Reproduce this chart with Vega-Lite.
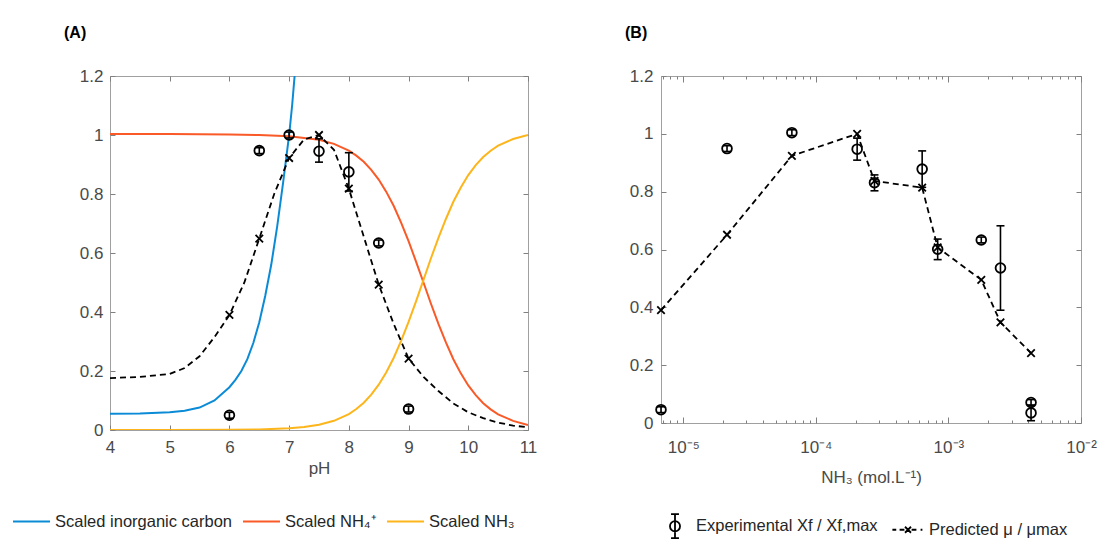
{
  "$schema": "https://vega.github.io/schema/vega-lite/v6.json",
  "padding": {"left": 12, "top": 24, "right": 0, "bottom": 0},
  "background": "white",
  "spacing": 86,
  "config": {
    "font": "Liberation Sans",
    "view": {"stroke": "#a0a0a0", "strokeWidth": 1},
    "axis": {"grid": false, "domain": false, "tickColor": "#808080", "tickSize": -5, "tickWidth": 1,
      "labelFont": "Liberation Sans", "labelFontSize": 17, "labelColor": "#4a4a4a",
      "titleFont": "Liberation Sans", "titleFontSize": 17, "titleFontWeight": "normal", "titleColor": "#4a4a4a",
      "labelFlush": false, "labelOverlap": false, "labelBound": false},
    "legend": {"labelFont": "Liberation Sans", "labelFontSize": 16.5, "labelColor": "#262626", "labelLimit": 0, "padding": 0},
    "title": {"font": "Liberation Sans", "fontSize": 16, "fontWeight": "bold", "color": "#000000", "anchor": "start", "frame": "group"}
  },
  "datasets": {
    "curvesA": [
      {"pH": 4, "value": 0.055, "curve": "Scaled inorganic carbon"},
      {"pH": 4.5, "value": 0.056, "curve": "Scaled inorganic carbon"},
      {"pH": 5, "value": 0.06, "curve": "Scaled inorganic carbon"},
      {"pH": 5.25, "value": 0.065, "curve": "Scaled inorganic carbon"},
      {"pH": 5.5, "value": 0.076, "curve": "Scaled inorganic carbon"},
      {"pH": 5.75, "value": 0.1, "curve": "Scaled inorganic carbon"},
      {"pH": 6, "value": 0.145, "curve": "Scaled inorganic carbon"},
      {"pH": 6.1, "value": 0.17, "curve": "Scaled inorganic carbon"},
      {"pH": 6.2, "value": 0.2, "curve": "Scaled inorganic carbon"},
      {"pH": 6.3, "value": 0.24, "curve": "Scaled inorganic carbon"},
      {"pH": 6.4, "value": 0.295, "curve": "Scaled inorganic carbon"},
      {"pH": 6.5, "value": 0.365, "curve": "Scaled inorganic carbon"},
      {"pH": 6.6, "value": 0.455, "curve": "Scaled inorganic carbon"},
      {"pH": 6.7, "value": 0.56, "curve": "Scaled inorganic carbon"},
      {"pH": 6.8, "value": 0.69, "curve": "Scaled inorganic carbon"},
      {"pH": 6.9, "value": 0.84, "curve": "Scaled inorganic carbon"},
      {"pH": 7, "value": 1.0, "curve": "Scaled inorganic carbon"},
      {"pH": 7.05, "value": 1.1, "curve": "Scaled inorganic carbon"},
      {"pH": 7.1, "value": 1.22, "curve": "Scaled inorganic carbon"},
      {"pH": 4, "value": 1.003, "curve": "Scaled NH₄⁺"},
      {"pH": 5, "value": 1.003, "curve": "Scaled NH₄⁺"},
      {"pH": 6, "value": 1.002, "curve": "Scaled NH₄⁺"},
      {"pH": 6.5, "value": 1.0, "curve": "Scaled NH₄⁺"},
      {"pH": 7, "value": 0.996, "curve": "Scaled NH₄⁺"},
      {"pH": 7.5, "value": 0.984, "curve": "Scaled NH₄⁺"},
      {"pH": 7.75, "value": 0.97, "curve": "Scaled NH₄⁺"},
      {"pH": 8, "value": 0.947, "curve": "Scaled NH₄⁺"},
      {"pH": 8.125, "value": 0.93, "curve": "Scaled NH₄⁺"},
      {"pH": 8.25, "value": 0.909, "curve": "Scaled NH₄⁺"},
      {"pH": 8.375, "value": 0.882, "curve": "Scaled NH₄⁺"},
      {"pH": 8.5, "value": 0.849, "curve": "Scaled NH₄⁺"},
      {"pH": 8.625, "value": 0.808, "curve": "Scaled NH₄⁺"},
      {"pH": 8.75, "value": 0.76, "curve": "Scaled NH₄⁺"},
      {"pH": 8.875, "value": 0.703, "curve": "Scaled NH₄⁺"},
      {"pH": 9, "value": 0.64, "curve": "Scaled NH₄⁺"},
      {"pH": 9.125, "value": 0.571, "curve": "Scaled NH₄⁺"},
      {"pH": 9.25, "value": 0.5, "curve": "Scaled NH₄⁺"},
      {"pH": 9.375, "value": 0.428, "curve": "Scaled NH₄⁺"},
      {"pH": 9.5, "value": 0.36, "curve": "Scaled NH₄⁺"},
      {"pH": 9.625, "value": 0.297, "curve": "Scaled NH₄⁺"},
      {"pH": 9.75, "value": 0.24, "curve": "Scaled NH₄⁺"},
      {"pH": 9.875, "value": 0.192, "curve": "Scaled NH₄⁺"},
      {"pH": 10, "value": 0.151, "curve": "Scaled NH₄⁺"},
      {"pH": 10.125, "value": 0.118, "curve": "Scaled NH₄⁺"},
      {"pH": 10.25, "value": 0.091, "curve": "Scaled NH₄⁺"},
      {"pH": 10.375, "value": 0.07, "curve": "Scaled NH₄⁺"},
      {"pH": 10.5, "value": 0.053, "curve": "Scaled NH₄⁺"},
      {"pH": 10.75, "value": 0.031, "curve": "Scaled NH₄⁺"},
      {"pH": 11, "value": 0.017, "curve": "Scaled NH₄⁺"},
      {"pH": 4, "value": 0.0, "curve": "Scaled NH₃"},
      {"pH": 5, "value": 0.0001, "curve": "Scaled NH₃"},
      {"pH": 6, "value": 0.0006, "curve": "Scaled NH₃"},
      {"pH": 6.5, "value": 0.0018, "curve": "Scaled NH₃"},
      {"pH": 7, "value": 0.0057, "curve": "Scaled NH₃"},
      {"pH": 7.25, "value": 0.0102, "curve": "Scaled NH₃"},
      {"pH": 7.5, "value": 0.0178, "curve": "Scaled NH₃"},
      {"pH": 7.75, "value": 0.0312, "curve": "Scaled NH₃"},
      {"pH": 8, "value": 0.0541, "curve": "Scaled NH₃"},
      {"pH": 8.125, "value": 0.0711, "curve": "Scaled NH₃"},
      {"pH": 8.25, "value": 0.0925, "curve": "Scaled NH₃"},
      {"pH": 8.375, "value": 0.1201, "curve": "Scaled NH₃"},
      {"pH": 8.5, "value": 0.1535, "curve": "Scaled NH₃"},
      {"pH": 8.625, "value": 0.1951, "curve": "Scaled NH₃"},
      {"pH": 8.75, "value": 0.2441, "curve": "Scaled NH₃"},
      {"pH": 8.875, "value": 0.3023, "curve": "Scaled NH₃"},
      {"pH": 9, "value": 0.3664, "curve": "Scaled NH₃"},
      {"pH": 9.125, "value": 0.4363, "curve": "Scaled NH₃"},
      {"pH": 9.25, "value": 0.5089, "curve": "Scaled NH₃"},
      {"pH": 9.375, "value": 0.5822, "curve": "Scaled NH₃"},
      {"pH": 9.5, "value": 0.6514, "curve": "Scaled NH₃"},
      {"pH": 9.625, "value": 0.7153, "curve": "Scaled NH₃"},
      {"pH": 9.75, "value": 0.7737, "curve": "Scaled NH₃"},
      {"pH": 9.875, "value": 0.8223, "curve": "Scaled NH₃"},
      {"pH": 10, "value": 0.8641, "curve": "Scaled NH₃"},
      {"pH": 10.125, "value": 0.8977, "curve": "Scaled NH₃"},
      {"pH": 10.25, "value": 0.9252, "curve": "Scaled NH₃"},
      {"pH": 10.375, "value": 0.9466, "curve": "Scaled NH₃"},
      {"pH": 10.5, "value": 0.9638, "curve": "Scaled NH₃"},
      {"pH": 10.75, "value": 0.9864, "curve": "Scaled NH₃"},
      {"pH": 11, "value": 1.0, "curve": "Scaled NH₃"}
    ],
    "predCurveA": [
      {"pH": 4, "value": 0.176}, {"pH": 4.5, "value": 0.18}, {"pH": 5, "value": 0.19},
      {"pH": 5.25, "value": 0.21}, {"pH": 5.5, "value": 0.25}, {"pH": 5.75, "value": 0.315},
      {"pH": 6, "value": 0.39}, {"pH": 6.25, "value": 0.5}, {"pH": 6.5, "value": 0.649},
      {"pH": 6.75, "value": 0.8}, {"pH": 7, "value": 0.922}, {"pH": 7.25, "value": 0.985},
      {"pH": 7.5, "value": 1.0}, {"pH": 7.75, "value": 0.95}, {"pH": 8, "value": 0.818},
      {"pH": 8.25, "value": 0.655}, {"pH": 8.5, "value": 0.493}, {"pH": 8.75, "value": 0.36},
      {"pH": 9, "value": 0.242}, {"pH": 9.25, "value": 0.18}, {"pH": 9.5, "value": 0.132},
      {"pH": 9.75, "value": 0.09}, {"pH": 10, "value": 0.06}, {"pH": 10.25, "value": 0.04},
      {"pH": 10.5, "value": 0.025}, {"pH": 10.75, "value": 0.015}, {"pH": 11, "value": 0.009}
    ],
    "predPtsA": [
      {"pH": 6, "value": 0.39}, {"pH": 6.5, "value": 0.649}, {"pH": 7, "value": 0.922},
      {"pH": 7.5, "value": 1.0}, {"pH": 8, "value": 0.818}, {"pH": 8.5, "value": 0.493},
      {"pH": 9, "value": 0.242}
    ],
    "expA": [
      {"pH": 6, "value": 0.05, "lo": 0.04, "hi": 0.06},
      {"pH": 6.5, "value": 0.947, "lo": 0.937, "hi": 0.957},
      {"pH": 7, "value": 1.0, "lo": 0.99, "hi": 1.01},
      {"pH": 7.5, "value": 0.945, "lo": 0.908, "hi": 0.987},
      {"pH": 8, "value": 0.875, "lo": 0.81, "hi": 0.94},
      {"pH": 8.5, "value": 0.634, "lo": 0.624, "hi": 0.644},
      {"pH": 9, "value": 0.071, "lo": 0.061, "hi": 0.081}
    ],
    "dataB": [
      {"nh3": 0.0000068, "value": 0.39, "series": "Predicted μ / μmax"},
      {"nh3": 0.0000214, "value": 0.651, "series": "Predicted μ / μmax"},
      {"nh3": 0.000066, "value": 0.924, "series": "Predicted μ / μmax"},
      {"nh3": 0.000205, "value": 1.0, "series": "Predicted μ / μmax"},
      {"nh3": 0.000277, "value": 0.837, "series": "Predicted μ / μmax"},
      {"nh3": 0.000634, "value": 0.814, "series": "Predicted μ / μmax"},
      {"nh3": 0.00083, "value": 0.607, "series": "Predicted μ / μmax"},
      {"nh3": 0.00177, "value": 0.495, "series": "Predicted μ / μmax"},
      {"nh3": 0.00247, "value": 0.348, "series": "Predicted μ / μmax"},
      {"nh3": 0.0042, "value": 0.242, "series": "Predicted μ / μmax"},
      {"nh3": 0.0000068, "value": 0.046, "lo": 0.036, "hi": 0.056, "series": "Experimental Xf / Xf,max"},
      {"nh3": 0.0000214, "value": 0.949, "lo": 0.939, "hi": 0.959, "series": "Experimental Xf / Xf,max"},
      {"nh3": 0.000066, "value": 1.004, "lo": 0.994, "hi": 1.014, "series": "Experimental Xf / Xf,max"},
      {"nh3": 0.000205, "value": 0.947, "lo": 0.909, "hi": 0.985, "series": "Experimental Xf / Xf,max"},
      {"nh3": 0.000277, "value": 0.831, "lo": 0.803, "hi": 0.858, "series": "Experimental Xf / Xf,max"},
      {"nh3": 0.000634, "value": 0.878, "lo": 0.815, "hi": 0.941, "series": "Experimental Xf / Xf,max"},
      {"nh3": 0.00083, "value": 0.601, "lo": 0.565, "hi": 0.636, "series": "Experimental Xf / Xf,max"},
      {"nh3": 0.00177, "value": 0.633, "lo": 0.623, "hi": 0.643, "series": "Experimental Xf / Xf,max"},
      {"nh3": 0.00247, "value": 0.536, "lo": 0.39, "hi": 0.682, "series": "Experimental Xf / Xf,max"},
      {"nh3": 0.0042, "value": 0.071, "lo": 0.061, "hi": 0.081, "series": "Experimental Xf / Xf,max"},
      {"nh3": 0.0042, "value": 0.035, "lo": 0.008, "hi": 0.062, "series": "Experimental Xf / Xf,max"}
    ]
  },
  "hconcat": [
    {
      "width": 418,
      "height": 354,
      "title": {"text": "(A)", "dx": -46, "offset": 26},
      "resolve": {"axis": {"x": "independent", "y": "independent"}},
      "layer": [
        {
          "data": {"name": "curvesA"},
          "mark": {"type": "line", "strokeWidth": 2, "clip": true},
          "encoding": {
            "x": {"field": "pH", "type": "quantitative", "scale": {"domain": [4, 11], "nice": false},
              "axis": {"orient": "bottom", "values": [4, 5, 6, 7, 8, 9, 10, 11], "labelPadding": 14, "title": "pH", "titlePadding": 5}},
            "y": {"field": "value", "type": "quantitative", "scale": {"domain": [0, 1.2], "nice": false},
              "axis": {"orient": "left", "values": [0, 0.2, 0.4, 0.6, 0.8, 1, 1.2], "format": "~g", "labelPadding": 12, "title": null}},
            "color": {"field": "curve", "type": "nominal",
              "scale": {"domain": ["Scaled inorganic carbon", "Scaled NH₄⁺", "Scaled NH₃"], "range": ["#0b8bd6", "#f95a28", "#fdb51c"]},
              "legend": {"orient": "none", "legendX": -98, "legendY": 426, "direction": "horizontal", "title": null,
                "symbolType": "stroke", "symbolSize": 1369, "symbolStrokeWidth": 2, "labelOffset": 4, "columnPadding": 6}}
          }
        },
        {
          "data": {"name": "predCurveA"},
          "mark": {"type": "line", "color": "#000000", "strokeWidth": 1.8, "strokeDash": [6, 4], "clip": true},
          "encoding": {
            "x": {"field": "pH", "type": "quantitative", "scale": {"domain": [4, 11], "nice": false},
              "axis": {"orient": "top", "values": [4, 5, 6, 7, 8, 9, 10, 11], "labels": false, "title": null}},
            "y": {"field": "value", "type": "quantitative", "scale": {"domain": [0, 1.2], "nice": false},
              "axis": {"orient": "right", "values": [0, 0.2, 0.4, 0.6, 0.8, 1, 1.2], "labels": false, "title": null}}
          }
        },
        {
          "data": {"name": "expA"},
          "mark": {"type": "rule", "color": "#000000", "strokeWidth": 1.6},
          "encoding": {
            "x": {"field": "pH", "type": "quantitative", "axis": null},
            "y": {"field": "lo", "type": "quantitative", "axis": null},
            "y2": {"field": "hi"}
          }
        },
        {
          "data": {"name": "expA"},
          "mark": {"type": "point", "shape": "M-1,0H1", "filled": false, "stroke": "#000000", "strokeWidth": 1.6, "size": 64, "opacity": 1},
          "encoding": {
            "x": {"field": "pH", "type": "quantitative", "axis": null},
            "y": {"field": "lo", "type": "quantitative", "axis": null}
          }
        },
        {
          "data": {"name": "expA"},
          "mark": {"type": "point", "shape": "M-1,0H1", "filled": false, "stroke": "#000000", "strokeWidth": 1.6, "size": 64, "opacity": 1},
          "encoding": {
            "x": {"field": "pH", "type": "quantitative", "axis": null},
            "y": {"field": "hi", "type": "quantitative", "axis": null}
          }
        },
        {
          "data": {"name": "expA"},
          "mark": {"type": "point", "shape": "circle", "filled": false, "stroke": "#000000", "strokeWidth": 1.8, "size": 95, "opacity": 1},
          "encoding": {
            "x": {"field": "pH", "type": "quantitative", "axis": null},
            "y": {"field": "value", "type": "quantitative", "axis": null}
          }
        },
        {
          "data": {"name": "predPtsA"},
          "mark": {"type": "point", "shape": "M-1,-1L1,1M-1,1L1,-1", "filled": false, "stroke": "#000000", "strokeWidth": 1.8, "size": 56, "opacity": 1},
          "encoding": {
            "x": {"field": "pH", "type": "quantitative", "axis": null},
            "y": {"field": "value", "type": "quantitative", "axis": null}
          }
        }
      ]
    },
    {
      "width": 420,
      "height": 347,
      "title": {"text": "(B)", "dx": -36, "offset": 26},
      "resolve": {"axis": {"x": "independent", "y": "independent"}},
      "data": {"name": "dataB"},
      "layer": [
        {
          "transform": [{"filter": "datum.series == 'Predicted μ / μmax'"}],
          "mark": {"type": "line", "color": "#000000", "strokeWidth": 1.8, "strokeDash": [6, 4]},
          "encoding": {
            "x": {"field": "nh3", "type": "quantitative", "scale": {"type": "log", "domain": [0.0000068, 0.01], "nice": false},
              "axis": {"orient": "bottom",
                "values": [0.000007, 0.000008, 0.000009, 0.00001, 0.00002, 0.00003, 0.00004, 0.00005, 0.00006, 0.00007, 0.00008, 0.00009, 0.0001, 0.0002, 0.0003, 0.0004, 0.0005, 0.0006, 0.0007, 0.0008, 0.0009, 0.001, 0.002, 0.003, 0.004, 0.005, 0.006, 0.007, 0.008, 0.009, 0.01],
                "labelExpr": "datum.value == 0.00001 ? '10⁻⁵' : datum.value == 0.0001 ? '10⁻⁴' : datum.value == 0.001 ? '10⁻³' : datum.value == 0.01 ? '10⁻²' : ''",
                "tickSize": {"condition": {"test": "datum.value == 0.00001 || datum.value == 0.0001 || datum.value == 0.001 || datum.value == 0.01", "value": -6}, "value": -3},
                "labelPadding": 22, "title": "NH₃ (mol.L⁻¹)", "titlePadding": 11}},
            "y": {"field": "value", "type": "quantitative", "scale": {"domain": [0, 1.2], "nice": false},
              "axis": {"orient": "left", "values": [0, 0.2, 0.4, 0.6, 0.8, 1, 1.2], "format": "~g", "labelPadding": 13, "title": null}}
          }
        },
        {
          "transform": [{"filter": "datum.series == 'Predicted μ / μmax'"}],
          "mark": {"type": "point", "shape": "M-1,-1L1,1M-1,1L1,-1", "filled": false, "stroke": "#000000", "strokeWidth": 1.8, "size": 56, "opacity": 1},
          "encoding": {
            "x": {"field": "nh3", "type": "quantitative", "scale": {"type": "log", "domain": [0.0000068, 0.01], "nice": false},
              "axis": {"orient": "top",
                "values": [0.000007, 0.000008, 0.000009, 0.00001, 0.00002, 0.00003, 0.00004, 0.00005, 0.00006, 0.00007, 0.00008, 0.00009, 0.0001, 0.0002, 0.0003, 0.0004, 0.0005, 0.0006, 0.0007, 0.0008, 0.0009, 0.001, 0.002, 0.003, 0.004, 0.005, 0.006, 0.007, 0.008, 0.009, 0.01],
                "tickSize": {"condition": {"test": "datum.value == 0.00001 || datum.value == 0.0001 || datum.value == 0.001 || datum.value == 0.01", "value": -6}, "value": -3},
                "labels": false, "title": null}},
            "y": {"field": "value", "type": "quantitative", "scale": {"domain": [0, 1.2], "nice": false},
              "axis": {"orient": "right", "values": [0, 0.2, 0.4, 0.6, 0.8, 1, 1.2], "labels": false, "title": null}}
          }
        },
        {
          "transform": [{"filter": "datum.series == 'Experimental Xf / Xf,max'"}],
          "mark": {"type": "rule", "color": "#000000", "strokeWidth": 1.6},
          "encoding": {
            "x": {"field": "nh3", "type": "quantitative", "axis": null},
            "y": {"field": "lo", "type": "quantitative", "axis": null},
            "y2": {"field": "hi"}
          }
        },
        {
          "transform": [{"filter": "datum.series == 'Experimental Xf / Xf,max'"}],
          "mark": {"type": "point", "shape": "M-1,0H1", "filled": false, "stroke": "#000000", "strokeWidth": 1.6, "size": 64, "opacity": 1},
          "encoding": {
            "x": {"field": "nh3", "type": "quantitative", "axis": null},
            "y": {"field": "lo", "type": "quantitative", "axis": null}
          }
        },
        {
          "transform": [{"filter": "datum.series == 'Experimental Xf / Xf,max'"}],
          "mark": {"type": "point", "shape": "M-1,0H1", "filled": false, "stroke": "#000000", "strokeWidth": 1.6, "size": 64, "opacity": 1},
          "encoding": {
            "x": {"field": "nh3", "type": "quantitative", "axis": null},
            "y": {"field": "hi", "type": "quantitative", "axis": null}
          }
        },
        {
          "transform": [{"filter": "datum.series == 'Experimental Xf / Xf,max'"}],
          "mark": {"type": "point", "shape": "circle", "filled": false, "stroke": "#000000", "strokeWidth": 1.8, "size": 95, "opacity": 1},
          "encoding": {
            "x": {"field": "nh3", "type": "quantitative", "axis": null},
            "y": {"field": "value", "type": "quantitative", "axis": null}
          }
        },
        {
          "mark": {"type": "point", "filled": false, "stroke": "#000000", "opacity": 0},
          "encoding": {
            "x": {"field": "nh3", "type": "quantitative", "axis": null},
            "y": {"field": "value", "type": "quantitative", "axis": null},
            "shape": {"field": "series", "type": "nominal",
              "scale": {"domain": ["Experimental Xf / Xf,max", "Predicted μ / μmax"],
                "range": ["M0,-1V1M-0.33,-1H0.33M-0.33,1H0.33M-0.42,0A0.42,0.42 0 1,1 0.42,0A0.42,0.42 0 1,1 -0.42,0Z",
                  "M-1.3,0H-0.98M-0.7,0H-0.3M0.3,0H0.7M1.05,0H1.2M-0.25,-0.25L0.25,0.25M-0.25,0.25L0.25,-0.25"]},
              "legend": {"orient": "none", "legendX": 552, "legendY": 437, "direction": "horizontal", "title": null,
                "symbolSize": 576, "symbolStrokeWidth": 1.8, "symbolStrokeColor": "#000000", "symbolFillColor": "transparent",
                "symbolOpacity": 1, "labelOffset": 8, "columnPadding": 10}}
          }
        }
      ]
    }
  ]
}
